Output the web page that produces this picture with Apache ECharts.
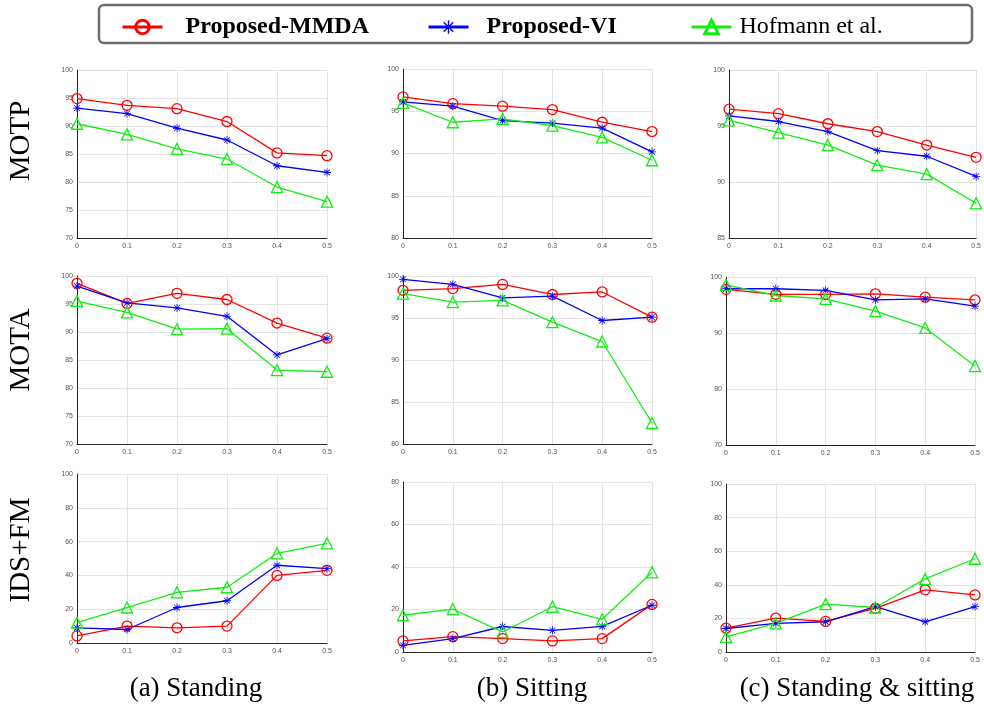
<!DOCTYPE html>
<html>
<head>
<meta charset="utf-8">
<script src="https://cdn.jsdelivr.net/npm/echarts@6/dist/echarts.min.js"></script>
<style>
html,body{margin:0;padding:0;background:#fff;}
#c{width:984px;height:706px;}
</style>
</head>
<body>
<div id="c"></div>
<script>
// ---------- data ----------
const xLabels = ['0', '0.1', '0.2', '0.3', '0.4', '0.5'];
const seriesNames = ['Proposed-MMDA', 'Proposed-VI', 'Hofmann et al.'];
const rowTitles = ['MOTP', 'MOTA', 'IDS+FM'];
const colCaptions = ['(a) Standing', '(b) Sitting', '(c) Standing & sitting'];

// MOTP
const motpStandingMMDA = [94.9, 93.7, 93.1, 90.8, 85.2, 84.7];
const motpStandingVI   = [93.2, 92.2, 89.6, 87.5, 82.9, 81.7];
const motpStandingHof  = [90.4, 88.5, 85.9, 84.1, 79.1, 76.5];
const motpSittingMMDA  = [96.7, 95.9, 95.6, 95.2, 93.7, 92.6];
const motpSittingVI    = [96.1, 95.6, 93.9, 93.6, 93.0, 90.2];
const motpSittingHof   = [96.0, 93.7, 94.1, 93.3, 91.9, 89.2];
const motpBothMMDA     = [96.5, 96.1, 95.2, 94.5, 93.3, 92.2];
const motpBothVI       = [95.9, 95.4, 94.5, 92.8, 92.3, 90.5];
const motpBothHof      = [95.5, 94.4, 93.3, 91.5, 90.7, 88.1];
// MOTA
const motaStandingMMDA = [98.7, 95.1, 96.9, 95.8, 91.6, 88.9];
const motaStandingVI   = [98.2, 95.2, 94.3, 92.8, 85.9, 88.8];
const motaStandingHof  = [95.5, 93.5, 90.5, 90.6, 83.2, 82.9];
const motaSittingMMDA  = [98.3, 98.5, 99.0, 97.8, 98.1, 95.1];
const motaSittingVI    = [99.6, 99.0, 97.4, 97.6, 94.7, 95.1];
const motaSittingHof   = [97.9, 96.9, 97.1, 94.5, 92.2, 82.5];
const motaBothMMDA     = [97.8, 96.9, 96.9, 97.0, 96.4, 95.9];
const motaBothVI       = [97.9, 97.9, 97.6, 95.9, 96.1, 94.8];
const motaBothHof      = [98.6, 96.7, 96.1, 93.9, 90.9, 84.1];
// IDS+FM
const idsStandingMMDA  = [4.2, 10, 9, 10, 40, 43];
const idsStandingVI    = [9, 8, 21, 25, 46, 44];
const idsStandingHof   = [12, 21, 30, 33, 53, 59];
const idsSittingMMDA   = [5.2, 7.2, 6.3, 5.2, 6.3, 22.4];
const idsSittingVI     = [3.1, 6.3, 12, 10.2, 12.1, 22];
const idsSittingHof    = [17.3, 20.2, 9.4, 21.3, 15.4, 37.5];
const idsBothMMDA      = [14.2, 20.2, 18.2, 26, 37, 34];
const idsBothVI        = [14, 17, 18, 27, 18, 27];
const idsBothHof       = [9, 17, 28.5, 26.5, 43.5, 55.5];

// y-axis ranges per panel (row-major)
const yMins      = [70, 80, 85, 70, 80, 70, 0, 0, 0];
const yMaxs      = [100, 100, 100, 100, 100, 100, 100, 80, 100];
const yIntervals = [5, 5, 5, 5, 5, 10, 20, 20, 20];

const panelData = [
  [motpStandingMMDA, motpStandingVI, motpStandingHof],
  [motpSittingMMDA, motpSittingVI, motpSittingHof],
  [motpBothMMDA, motpBothVI, motpBothHof],
  [motaStandingMMDA, motaStandingVI, motaStandingHof],
  [motaSittingMMDA, motaSittingVI, motaSittingHof],
  [motaBothMMDA, motaBothVI, motaBothHof],
  [idsStandingMMDA, idsStandingVI, idsStandingHof],
  [idsSittingMMDA, idsSittingVI, idsSittingHof],
  [idsBothMMDA, idsBothVI, idsBothHof]
];

// ---------- layout / style ----------
const gridBoxes = [
  {l: 77, t: 70, w: 250, h: 168},
  {l: 403, t: 69, w: 249, h: 169},
  {l: 729, t: 70, w: 249, h: 168},
  {l: 77, t: 276, w: 250, h: 168},
  {l: 403, t: 276, w: 249, h: 168},
  {l: 726, t: 277, w: 249, h: 168},
  {l: 77, t: 474, w: 250, h: 169},
  {l: 403, t: 482, w: 249, h: 170},
  {l: 726, t: 484, w: 249, h: 168}
];
const colors = ['#ff0000', '#0000ff', '#11ee11'];
const asterisk = 'path://M-1,-0.1L1,-0.1L1,0.1L-1,0.1Z M-0.1,-1L0.1,-1L0.1,1L-0.1,1Z M-0.64,-0.78L0.78,0.64L0.64,0.78L-0.78,-0.64Z M0.64,-0.78L0.78,-0.64L-0.64,0.78L-0.78,0.64Z';
const symbols = ['circle', asterisk, 'triangle'];
const symbolSizes = [10, 8, 11];

const grids = [], xAxes = [], yAxes = [], series = [];
gridBoxes.forEach((b, i) => {
  grids.push({left: b.l, top: b.t, width: b.w, height: b.h, containLabel: false});
  xAxes.push({
    type: 'category', gridIndex: i, data: xLabels, boundaryGap: false,
    axisLine: {show: true, lineStyle: {color: '#262626', width: 1}},
    axisTick: {show: false},
    axisLabel: {fontSize: 7, color: '#555', margin: 5, fontFamily: 'Liberation Sans'},
    splitLine: {show: true, lineStyle: {color: '#e3e3e3', width: 1}}
  });
  yAxes.push({
    type: 'value', gridIndex: i, min: yMins[i], max: yMaxs[i], interval: yIntervals[i],
    axisLine: {show: true, lineStyle: {color: '#262626', width: 1}},
    axisTick: {show: false},
    axisLabel: {fontSize: 7, color: '#555', margin: 4, fontFamily: 'Liberation Sans'},
    splitLine: {show: true, lineStyle: {color: '#e3e3e3', width: 1}}
  });
  panelData[i].forEach((arr, k) => {
    const isStarred = k === 1;
    series.push({
      type: 'line', name: seriesNames[k], xAxisIndex: i, yAxisIndex: i,
      data: arr, clip: false, animation: false,
      symbol: symbols[k], symbolSize: symbolSizes[k], showAllSymbol: true,
      lineStyle: {color: colors[k], width: 1.3},
      itemStyle: isStarred
        ? {color: colors[k], borderWidth: 0}
        : {color: 'rgba(255,255,255,0)', borderColor: colors[k], borderWidth: 1.3},
      emphasis: {disabled: true}
    });
  });
});

const legendBase = {
  top: 15, padding: 0, itemWidth: 40, itemHeight: 17, orient: 'horizontal',
  lineStyle: {width: 3},
  itemStyle: {borderWidth: 3},
  textStyle: {fontFamily: 'Liberation Serif', fontSize: 24, color: '#000'}
};
const legends = [
  Object.assign({}, legendBase, {left: 121, data: [seriesNames[0]],
    textStyle: Object.assign({}, legendBase.textStyle, {fontWeight: 'bold', padding: [0, 0, 0, 18]})}),
  Object.assign({}, legendBase, {left: 427, data: [seriesNames[1]],
    textStyle: Object.assign({}, legendBase.textStyle, {fontWeight: 'bold', padding: [0, 0, 0, 13]})}),
  Object.assign({}, legendBase, {left: 690, data: [seriesNames[2]],
    textStyle: Object.assign({}, legendBase.textStyle, {fontWeight: 'normal', padding: [0, 0, 0, 3]})})
];

const rowTitleY = [141, 350, 550];
const captionX = [196, 532, 857];
const graphics = [
  {type: 'rect', shape: {x: 99, y: 5, width: 873, height: 38, r: 5},
   style: {fill: '#fff', stroke: '#6e6e6e', lineWidth: 2.5}, z: -1}
];
rowTitles.forEach((t, r) => {
  graphics.push({type: 'text', x: 21, y: rowTitleY[r], rotation: Math.PI / 2,
    style: {text: t, fontFamily: 'Liberation Serif', fontSize: 29, fill: '#000',
      textAlign: 'center', textVerticalAlign: 'middle'}});
});
colCaptions.forEach((t, c) => {
  graphics.push({type: 'text', x: captionX[c], y: 689,
    style: {text: t, fontFamily: 'Liberation Serif', fontSize: 27, fill: '#000',
      textAlign: 'center', textVerticalAlign: 'middle'}});
});

const chart = echarts.init(document.getElementById('c'), null, {renderer: 'canvas'});
chart.setOption({
  backgroundColor: '#fff',
  animation: false,
  grid: grids, xAxis: xAxes, yAxis: yAxes, series: series,
  legend: legends,
  graphic: graphics
});
</script>
</body>
</html>
